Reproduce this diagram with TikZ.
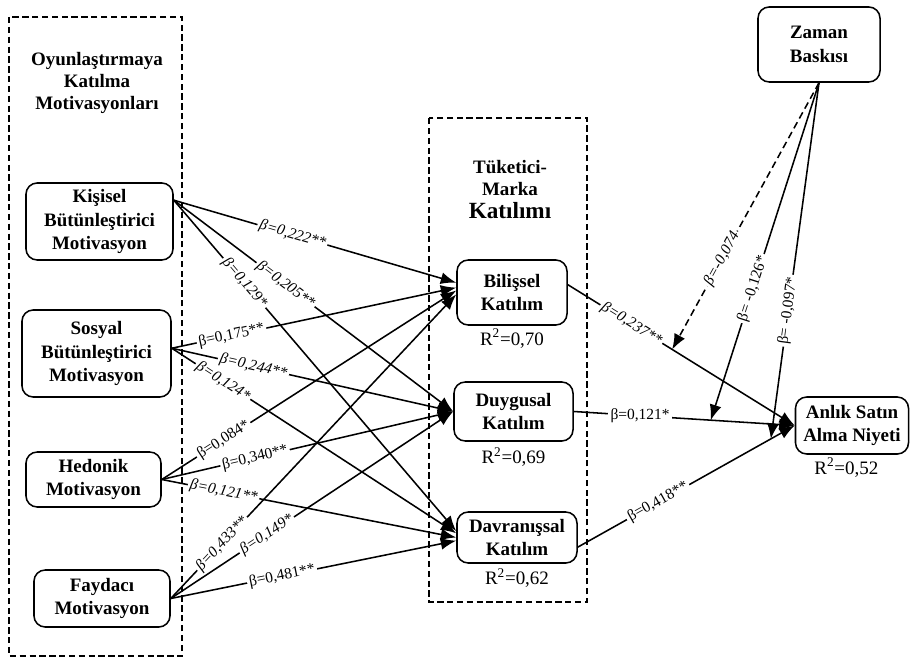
\documentclass[tikz,border=0pt]{standalone}
\usepackage{fontspec}
\setmainfont{Liberation Serif}
\usepackage{tikz}
\usetikzlibrary{arrows.meta,positioning}
\newcommand{\boxFont}{\fontsize{13.5}{17}\selectfont\bfseries}
\newcommand{\titleFont}{\fontsize{13.5}{15.5}\selectfont\bfseries}
\newcommand{\betaFont}{\fontsize{11}{12}\selectfont}
\newcommand{\rFont}{\fontsize{13.5}{16}\selectfont}
\tikzset{
  motBox/.style={draw, rounded corners=8pt, line width=1.1pt, font=\boxFont, align=center, inner sep=2pt},
  groupBox/.style={line width=1.4pt, dash pattern=on 4.5pt off 2.5pt},
  effArrow/.style={line width=1.1pt, -{Latex[length=11pt,width=8.5pt]}},
  betaLabel/.style={fill=white, inner sep=1.5pt, font=\betaFont},
  betaItalic/.style={betaLabel, font=\betaFont\itshape},
  rLabel/.style={font=\rFont, inner sep=1pt}
}

\begin{document}
\begin{tikzpicture}[x=0.025cm, y=-0.025cm]
  \useasboundingbox (0,0) rectangle (911,661);

  % group frames
  \draw[groupBox] (9,17) rectangle (182,656);
  \draw[groupBox] (429,118) rectangle (587,602);
  \node[font=\titleFont, align=center] (titleMot) at (97,83) {Oyunlaştırmaya\\Katılma\\Motivasyonları};
  \node[font=\titleFont, align=center] (titleEng) at (510,190) {Tüketici-\\Marka\\[1pt]{\fontsize{16.5}{18}\selectfont Katılımı}};

  % motivations
  \node[motBox, minimum width=3.675cm, minimum height=1.925cm] (Kis) at (99.5,221.5) {Kişisel\\Bütünleştirici\\Motivasyon};
  \node[motBox, minimum width=3.725cm, minimum height=2.175cm] (Sos) at (96.5,353.5) {Sosyal\\Bütünleştirici\\Motivasyon};
  \node[motBox, minimum width=3.375cm, minimum height=1.375cm] (Hed) at (93.5,479.5) {Hedonik\\Motivasyon};
  \node[motBox, minimum width=3.4cm, minimum height=1.425cm] (Fay) at (102,598.5) {Faydacı\\Motivasyon};

  % engagement
  \node[motBox, minimum width=2.75cm, minimum height=1.625cm] (Bil) at (512,292.5) {Bilişsel\\Katılım};
  \node[motBox, minimum width=2.975cm, minimum height=1.475cm] (Duy) at (513.5,411.5) {Duygusal\\Katılım};
  \node[motBox, minimum width=3.0cm, minimum height=1.275cm] (Dav) at (517,537.5) {Davranışsal\\Katılım};
  \node[rLabel, below=1pt of Bil] (rBil) {R\textsuperscript{2}=0,70};
  \node[rLabel, below=3pt of Duy] (rDuy) {R\textsuperscript{2}=0,69};
  \node[rLabel, below=2pt of Dav] (rDav) {R\textsuperscript{2}=0,62};

  % outcome and moderator
  \node[motBox, minimum width=3.05cm, minimum height=1.875cm] (Zam) at (819,44.5) {Zaman\\Baskısı};
  \node[motBox, minimum width=2.825cm, minimum height=1.425cm] (Anl) at (852,425.5) {Anlık Satın\\Alma Niyeti};
  \node[rLabel, below=1pt of Anl, xshift=-4pt] (rAnl) {R\textsuperscript{2}=0,52};

  % paths to engagement
  \draw[effArrow] (Kis.16) -- node[betaItalic, pos=0.42, sloped] {β=0,222**} (Bil.170);
  \draw[effArrow] (Kis.16) -- node[betaItalic, pos=0.40, sloped] {β=0,205**} (Duy.west);
  \draw[effArrow] (Kis.16) -- node[betaItalic, pos=0.25, sloped] {β=0,129*} (Dav.174);
  \draw[effArrow] (Sos.4) -- node[betaLabel, pos=0.21, sloped] {β=0,175**} (Bil.175);
  \draw[effArrow] (Sos.4) -- node[betaItalic, pos=0.29, sloped] {β=0,244**} (Duy.west);
  \draw[effArrow] (Sos.4) -- node[betaItalic, pos=0.18, sloped] {β=0,124*} (Dav.176);
  \draw[effArrow] (Hed.east) -- node[betaLabel, pos=0.21, sloped] {β=0,084*} (Bil.178);
  \draw[effArrow] (Hed.east) -- node[betaLabel, pos=0.32, sloped] {β=0,340**} (Duy.west);
  \draw[effArrow] (Hed.east) -- node[betaItalic, pos=0.21, sloped] {β=0,121**} (Dav.west);
  \draw[effArrow] (Fay.east) -- node[betaItalic, pos=0.18, sloped] {β=0,433**} (Bil.182);
  \draw[effArrow] (Fay.east) -- node[betaItalic, pos=0.34, sloped] {β=0,149*} (Duy.west);
  \draw[effArrow] (Fay.east) -- node[betaLabel, pos=0.39, sloped] {β=0,481**} (Dav.183);

  % paths to intention
  \draw[effArrow] (Bil.8) -- node[betaItalic, pos=0.28, sloped] {β=0,237**} coordinate[pos=0.46] (mBil) (Anl.west);
  \draw[effArrow] (Duy.east) -- node[betaLabel, pos=0.30] {β=0,121*} coordinate[pos=0.62] (mDuy) (Anl.west);
  \draw[effArrow] (Dav.-9) -- node[betaLabel, pos=0.37, sloped] {β=0,418**} coordinate[pos=0.89] (mDav) (Anl.west);

  % moderation
  \draw[effArrow, dash pattern=on 5pt off 3pt] (Zam.south) -- node[betaItalic, pos=0.66, sloped] {β=-0,074} (mBil);
  \draw[effArrow] (Zam.south) -- node[betaLabel, pos=0.61, sloped] {β= -0,126*} (mDuy);
  \draw[effArrow] (Zam.south) -- node[betaLabel, pos=0.64, sloped] {β= -0,097*} (mDav);
\end{tikzpicture}
\end{document}
